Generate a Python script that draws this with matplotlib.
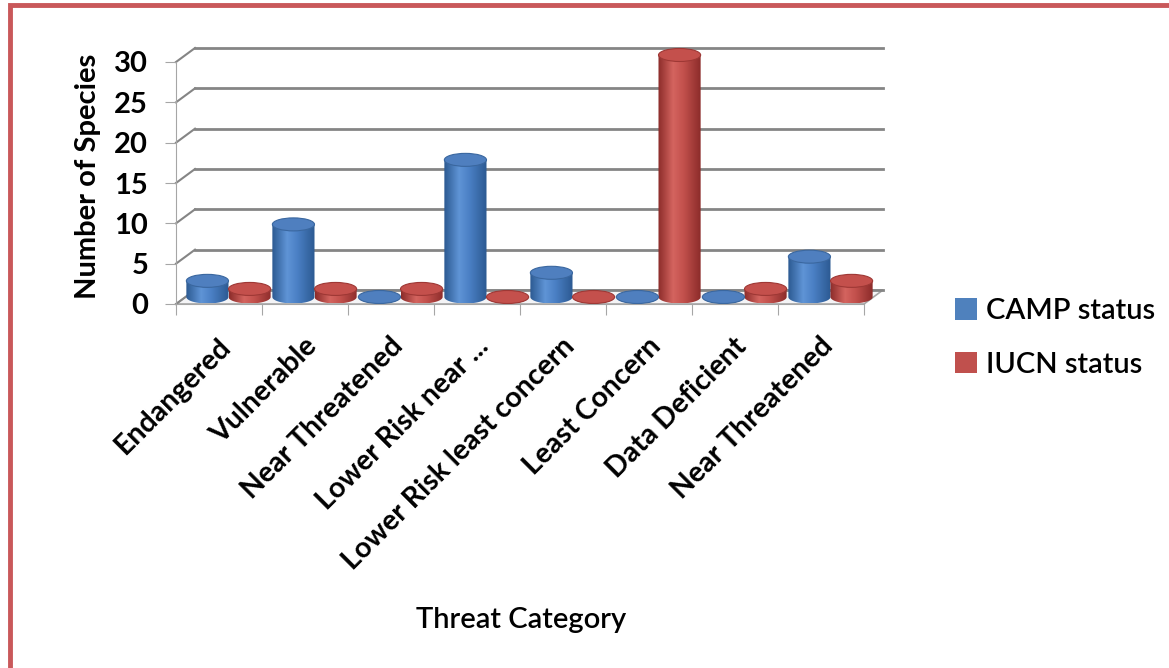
import matplotlib
matplotlib.use("Agg")
import matplotlib.pyplot as plt
import numpy as np
from matplotlib.patches import Ellipse, Polygon, Patch, Rectangle
from matplotlib.colors import LinearSegmentedColormap

# data
categories = ["Endangered", "Vulnerable", "Near Threatened", "Lower Risk near ...",
              "Lower Risk least concern", "Least Concern", "Data Deficient", "Near Threatened"]
camp_status = [2, 9, 0, 17, 3, 0, 0, 5]
iucn_status = [1, 1, 1, 0, 0, 30, 1, 2]
y_ticks = [0, 5, 10, 15, 20, 25, 30]

plt.rcParams["font.family"] = ["Lato", "DejaVu Sans"]

W, H = 1169, 668
PX_X = 86.0          # pixels per category
PX_Y = 242.0 / 30    # pixels per unit
X0, Y0 = 176, 304    # front origin in pixels
XMAX, YMAX = 8.4, 33.0

fig = plt.figure(figsize=(W / 100, H / 100), dpi=100)
ax = fig.add_axes([X0 / W, (H - Y0) / H, XMAX * PX_X / W, YMAX * PX_Y / H])
ax.set_facecolor("none")

# depth of the 3d box, in data units
DX = 19 / PX_X
DY = 14 / PX_Y
n = len(categories)

# floor
floor = Polygon([(0, 0), (n, 0), (n + DX, DY), (DX, DY)], closed=True,
                facecolor="#f4f4f6", edgecolor="#a6a6a6", lw=1.2, zorder=1, clip_on=False)
ax.add_patch(floor)

# back wall gridlines + left wall diagonals
for v in y_ticks:
    ax.plot([DX, n + DX], [v + DY, v + DY], color="#858585", lw=2, zorder=1, clip_on=False)
    ax.plot([0, DX], [v, v + DY], color="#858585", lw=1.5, zorder=1, clip_on=False)


def cyl_cmap(edge, mid, light):
    return LinearSegmentedColormap.from_list("c", [(0, edge), (0.35, light), (0.6, mid), (1, edge)])


blue_cmap = cyl_cmap("#2c5a92", "#4a7fc4", "#5f94d6")
red_cmap = cyl_cmap("#8c2c2a", "#c2504c", "#d4645f")
grad = np.linspace(0, 1, 64).reshape(1, -1)

w = 0.49
eh = 13 / PX_Y
base = DY / 2


def cylinder(xl, value, cmap, top_color, edge_color):
    cx = xl + w / 2
    top = base + value
    t = np.linspace(np.pi, 2 * np.pi, 40)
    pts = [(cx + w / 2 * np.cos(a), base + eh / 2 * np.sin(a)) for a in t]
    pts += [(xl + w, top), (xl, top)]
    body = Polygon(pts, closed=True, facecolor="none", edgecolor="none")
    ax.add_patch(body)
    im = ax.imshow(grad, cmap=cmap, aspect="auto", extent=[xl, xl + w, base - eh / 2, top],
                   zorder=3, interpolation="bilinear")
    im.set_clip_path(body)
    ax.add_patch(Ellipse((cx, top), w, eh, facecolor=top_color, edgecolor=edge_color,
                         lw=0.8, zorder=4))


for i in range(n):
    c = i + 0.5 + DX / 2
    cylinder(c - w, camp_status[i], blue_cmap, "#4f7fbf", "#3a679f")
    cylinder(c, iucn_status[i], red_cmap, "#c4504c", "#9e3835")

ax.set_xlim(0, XMAX)
ax.set_ylim(0, YMAX)

for s in ["top", "right"]:
    ax.spines[s].set_visible(False)
ax.spines["left"].set_bounds(0, 30)
ax.spines["bottom"].set_bounds(0, n)
ax.spines["left"].set_color("#a6a6a6")
ax.spines["bottom"].set_color("#a6a6a6")
ax.spines["left"].set_zorder(2)

ax.set_yticks(y_ticks)
ax.set_yticklabels([str(v) for v in y_ticks], fontsize=21, fontweight="bold")
ax.tick_params(axis="y", length=8, color="#a6a6a6", pad=12)

ax.set_xticks(range(n + 1))
ax.set_xticklabels([""] * (n + 1))
ax.tick_params(axis="x", which="major", length=8, color="#a6a6a6")
ax.set_xticks([i + 0.48 for i in range(n)], minor=True)
ax.set_xticklabels(categories, minor=True, rotation=45, ha="right", va="top",
                   rotation_mode="anchor", fontsize=20.5, fontweight="bold")
ax.tick_params(axis="x", which="minor", length=0, pad=21)

fig.text(88 / W, 1 - 176 / H, "Number of Species", rotation=90, ha="center", va="center",
         fontsize=21, fontweight="bold")
fig.text(521 / W, 1 - 620 / H, "Threat Category", ha="center", va="center", fontsize=21,
         fontweight="semibold")

handles = [Patch(facecolor="#4f81bd", label="CAMP status"),
           Patch(facecolor="#c0504d", label="IUCN status")]
fig.legend(handles=handles, loc="upper left", bbox_to_anchor=(955 / W, 1 - 298 / H),
           frameon=False, handlelength=0.75, handleheight=0.75,
           handletextpad=0.3, labelspacing=0.95, borderpad=0, borderaxespad=0,
           prop={"size": 21, "weight": "semibold"})

# outer frame
fig.patches.append(Rectangle((10 / W, -0.1), 1.2, 1 - 5 / H + 0.1, transform=fig.transFigure,
                             facecolor="none", edgecolor="#c9585a", lw=3.5))

fig.savefig("out.png", dpi=100)
